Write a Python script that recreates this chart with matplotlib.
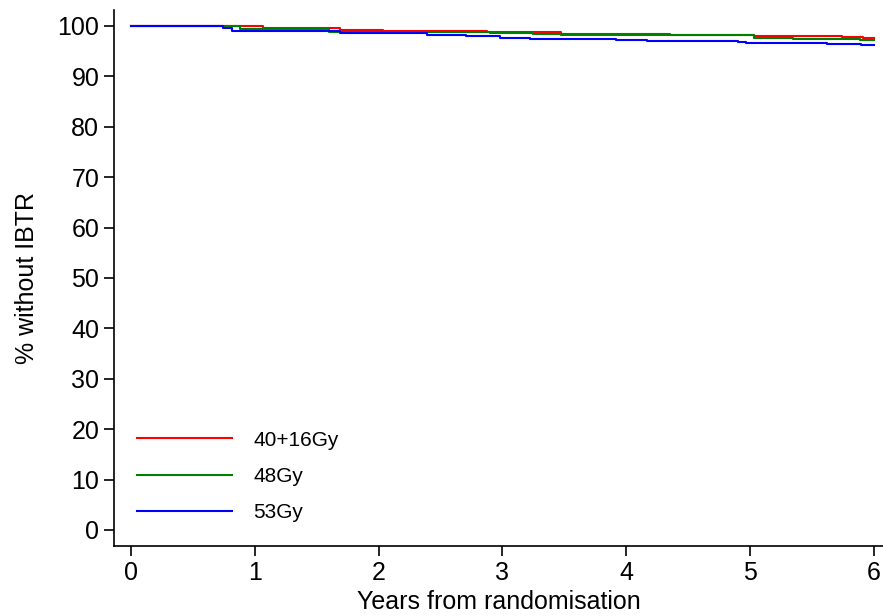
import matplotlib
matplotlib.use("Agg")
import matplotlib.pyplot as plt

plt.rcParams['font.family'] = ['Liberation Sans', 'DejaVu Sans']

# step times (years) and % without IBTR for each arm
t_red = [0, 0.82, 1.07, 1.69, 2.04, 2.88, 3.47, 5.03, 5.74, 5.91, 6.0]
s_red = [100, 99.9, 99.6, 99.3, 99.1, 98.8, 98.3, 98.0, 97.8, 97.6, 97.6]

t_green = [0, 0.88, 1.6, 2.9, 3.25, 4.35, 5.03, 5.35, 5.89, 6.0]
s_green = [100, 99.4, 98.9, 98.7, 98.5, 98.3, 97.7, 97.5, 97.3, 97.3]

t_blue = [0, 0.74, 0.82, 1.69, 2.39, 2.71, 2.98, 3.22, 3.73, 3.92, 4.17, 4.9, 4.97, 5.62, 5.9, 6.0]
s_blue = [100, 99.6, 99.0, 98.7, 98.3, 98.0, 97.7, 97.5, 97.4, 97.2, 97.0, 96.75, 96.7, 96.5, 96.3, 96.3]

labels = ["40+16Gy", "48Gy", "53Gy"]

fig = plt.figure(figsize=(8.83, 6.16), dpi=100)
ax = fig.add_axes([0.129, 0.1136, 0.871, 0.8704])

ax.step(t_red, s_red, where='post', color='#ff0000', lw=1.5, label=labels[0])
ax.step(t_green, s_green, where='post', color='#008000', lw=1.5, label=labels[1])
ax.step(t_blue, s_blue, where='post', color='#0000ff', lw=1.5, label=labels[2])

ax.set_xlim(-0.137, 6.074)
ax.set_ylim(-3.2, 103.2)
ax.set_xticks(range(0, 7))
ax.set_yticks(range(0, 101, 10))
ax.tick_params(labelsize=18, length=7, width=1.2, direction='out')
for side in ['top', 'right']:
    ax.spines[side].set_visible(False)
for side in ['left', 'bottom']:
    ax.spines[side].set_linewidth(1.2)

ax.set_xlabel("Years from randomisation", fontsize=18, labelpad=4)
ax.set_ylabel("% without IBTR", fontsize=18, labelpad=13)

ax.legend(loc='lower left', bbox_to_anchor=(0.005, 0.01), frameon=False,
          fontsize=15, handlelength=4.6, handletextpad=1.0, labelspacing=0.82)

fig.savefig("out.png", dpi=100)
